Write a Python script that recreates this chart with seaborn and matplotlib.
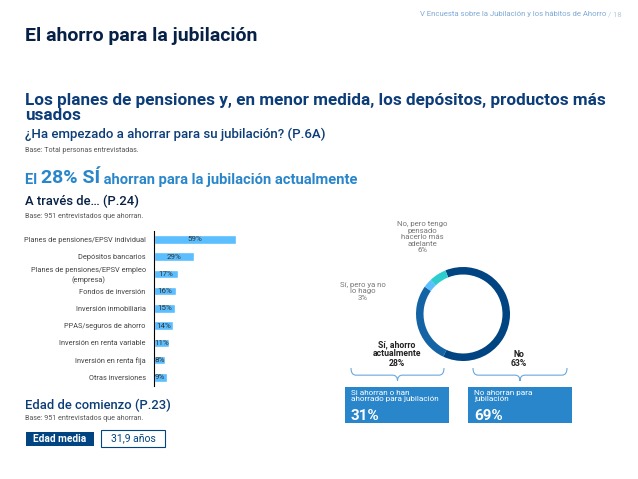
import numpy as np
import pandas as pd
import seaborn as sns
import matplotlib.pyplot as plt
from matplotlib.patches import Rectangle, PathPatch
from matplotlib.path import Path

# data
categories = ['Planes de pensiones/EPSV individual', 'Depósitos bancarios',
              'Planes de pensiones/EPSV empleo\n(empresa)', 'Fondos de inversión',
              'Inversión inmobiliaria', 'PPAS/seguros de ahorro',
              'Inversión en renta variable', 'Inversión en renta fija', 'Otras inversiones']
shares = [59, 29, 17, 16, 15, 14, 11, 8, 9]

donut_labels = ['No', 'Sí, ahorro\nactualmente', 'Sí, pero ya no\nlo hago',
                'No, pero tengo\npensado\nhacerlo más\nadelante']
donut_values = [63, 28, 3, 6]

group_texts = ['Si ahorran o han\nahorrado para jubilación', 'No ahorran para\njubilación']
group_values = [31, 69]

edad_label = 'Edad media'
edad_value = '31,9 años'

# colours
navy = '#072146'
dark_blue = '#004481'
mid_blue = '#1464A5'
light_blue = '#5BBEFF'
teal = '#2DCCCD'
box_blue = '#2A86CA'
gray = '#555555'

sns.set_style('white')
plt.rcParams['font.family'] = ['Roboto', 'DejaVu Sans']

fig = plt.figure(figsize=(6.38, 4.79), dpi=100)
W, H = 638, 479

# overlay in pixel coords for the text
lay = fig.add_axes([0, 0, 1, 1])
lay.set_xlim(0, W)
lay.set_ylim(H, 0)
lay.axis('off')
lay.patch.set_alpha(0)

lay.text(606, 14, 'V Encuesta sobre la Jubilación y los hábitos de Ahorro', ha='right',
         va='center', fontsize=5.6, color='#7fa9d6')
lay.text(622, 14, '/ 18', ha='right', va='center', fontsize=5.6, color='#b8cbe0')
lay.text(25, 36, 'El ahorro para la jubilación', ha='left', va='center',
         fontsize=14, fontweight='bold', color=navy)
lay.text(25, 105, 'Los planes de pensiones y, en menor medida, los depósitos, productos más',
         ha='left', va='baseline', fontsize=12.3, fontweight='bold', color='#0d3d78')
lay.text(25, 120, 'usados', ha='left', va='baseline', fontsize=12.3, fontweight='bold',
         color='#0d3d78')
lay.text(25, 138, '¿Ha empezado a ahorrar para su jubilación? (P.6A)', ha='left', va='baseline',
         fontsize=9.5, fontweight='medium', color='#0d3d78')
lay.text(25, 150, 'Base: Total personas entrevistadas.', ha='left', va='center',
         fontsize=5.1, color=gray)

t1 = lay.text(25, 184, 'El ', ha='left', va='baseline', fontsize=10.6,
              fontweight='semibold', color=box_blue)
t2 = lay.annotate('28% SÍ', xy=(1, 0), xycoords=t1, ha='left', va='bottom',
                  fontsize=14, fontweight='semibold', color=box_blue)
lay.annotate(' ahorran para la jubilación actualmente', xy=(1, 0), xycoords=t2,
             ha='left', va='bottom', fontsize=10.6, fontweight='semibold', color=box_blue)

lay.text(25, 201, 'A través de… (P.24)', ha='left', va='center', fontsize=9.4,
         fontweight='medium', color=navy)
lay.text(25, 216, 'Base: 951 entrevistados que ahorran.', ha='left', va='center',
         fontsize=5.1, color=gray)

lay.text(25, 405, 'Edad de comienzo (P.23)', ha='left', va='center', fontsize=9.4,
         fontweight='medium', color='#0d3d78')
lay.text(25, 419, 'Base: 951 entrevistados que ahorran.', ha='left', va='center',
         fontsize=5.1, color=gray)

lay.add_patch(Rectangle((26, 432), 68, 14, facecolor=dark_blue, edgecolor='none'))
lay.text(60, 439.5, edad_label, ha='center', va='center', fontsize=7.3,
         fontweight='semibold', color='white')
lay.add_patch(Rectangle((101, 430), 64, 17, facecolor='white', edgecolor=dark_blue, lw=0.8))
lay.text(133, 438, edad_value, ha='center', va='center', fontsize=7.5, color=dark_blue)

# bar chart
df = pd.DataFrame({'categoria': categories, 'pct': shares})
ax = fig.add_axes([154 / W, 1 - 386 / H, 176 / W, (386 - 230.7) / H])
sns.barplot(data=df, x='pct', y='categoria', orient='h', color=light_blue,
            width=0.5, saturation=1, ax=ax)
ax.set_xlim(0, 126.6)
ax.set_ylim(8.5, -0.5)
ax.set_xlabel('')
ax.set_ylabel('')
ax.set_xticks([])
sns.despine(ax=ax, left=False, bottom=True)
ax.spines['left'].set_color('black')
ax.spines['left'].set_linewidth(0.8)
ax.tick_params(axis='y', which='major', length=0, pad=6, labelsize=5.3, labelcolor='#444444')
ax.set_yticks(np.arange(-0.5, 9, 1), minor=True)
ax.tick_params(axis='y', which='minor', length=2, width=0.6, color='black', direction='out')
for lab in ax.get_yticklabels():
    lab.set_multialignment('center')
for i, v in enumerate(shares):
    ax.text(v / 2, i, f'{v}%', ha='center', va='center', fontsize=5.8, color='#333333')
ax.patch.set_alpha(0)

# donut
dax = fig.add_axes([416 / W, 1 - 361 / H, 94 / W, 94 / H])
dax.pie(donut_values, colors=[dark_blue, mid_blue, light_blue, teal], startangle=112,
        counterclock=False, radius=1, wedgeprops=dict(width=0.16, edgecolor='none'))
dax.set_xlim(-1, 1)
dax.set_ylim(-1, 1)
dax.set_aspect('auto')
dax.axis('off')

lay.text(422, 237, f'{donut_labels[3]}\n{donut_values[3]}%', ha='center', va='center',
         fontsize=5.6, color='#777777', linespacing=1.1)
lay.text(363, 291, f'{donut_labels[2]}\n{donut_values[2]}%', ha='center', va='center',
         fontsize=5.6, color='#777777', linespacing=1.1)
lay.text(397, 354, f'{donut_labels[1]}\n{donut_values[1]}%', ha='center', va='center',
         fontsize=6.2, fontweight='bold', color='#222222', linespacing=1.1)
lay.text(519, 359, f'{donut_labels[0]}\n{donut_values[0]}%', ha='center', va='center',
         fontsize=6.2, fontweight='bold', color='#222222', linespacing=1.1)


def brace(x0, x1, y0, h, color='#6aa8dc'):
    xm = (x0 + x1) / 2
    ym = y0 + h * 0.55
    r = 5
    verts = [(x0, y0), (x0, ym), (x0 + r, ym),
             (xm - r, ym),
             (xm, ym), (xm, y0 + h),
             (xm, ym), (xm + r, ym),
             (x1 - r, ym),
             (x1, ym), (x1, y0)]
    codes = [Path.MOVETO, Path.CURVE3, Path.CURVE3, Path.LINETO,
             Path.CURVE3, Path.CURVE3, Path.CURVE3, Path.CURVE3,
             Path.LINETO, Path.CURVE3, Path.CURVE3]
    lay.add_patch(PathPatch(Path(verts, codes), facecolor='none', edgecolor=color, lw=0.8))


brace(351, 444, 368, 13)
brace(473, 567, 368, 13)

for bx, txt, val in zip([345, 468], group_texts, group_values):
    lay.add_patch(Rectangle((bx, 387), 104, 36, facecolor=box_blue, edgecolor='none'))
    lay.text(bx + 6, 390, txt, ha='left', va='top', fontsize=5.9, color='white', linespacing=1.0)
    lay.text(bx + 6, 420, f'{val}%', ha='left', va='baseline', fontsize=11,
             fontweight='semibold', color='white')

fig.savefig('out.png', dpi=100)
